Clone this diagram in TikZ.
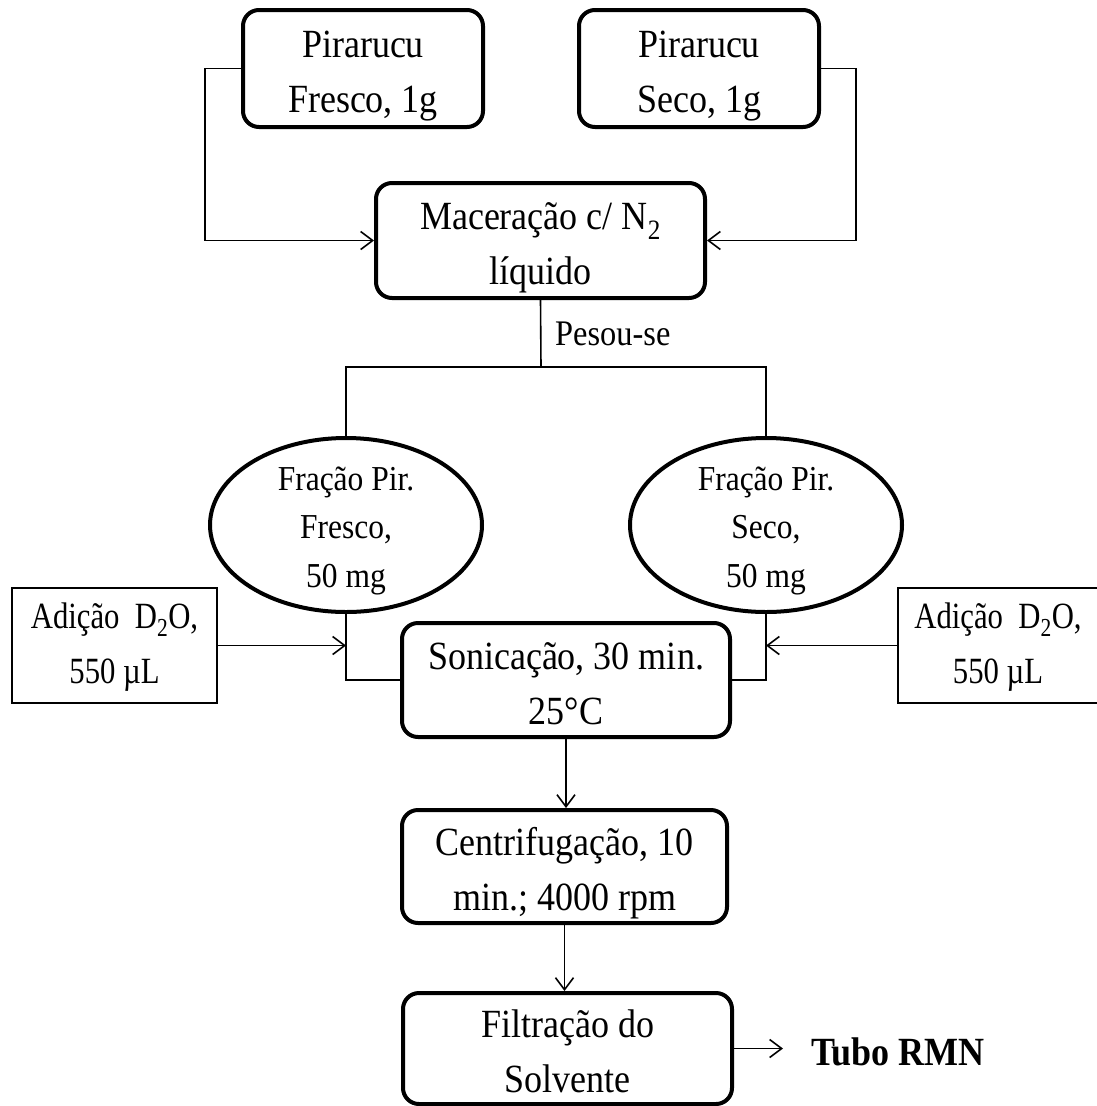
\documentclass[tikz,border=0pt]{standalone}
\usepackage{fontspec}
\setmainfont{Liberation Serif}[FakeStretch=0.9]
\newfontfamily\condfont{Liberation Serif}[FakeStretch=0.83]
\usetikzlibrary{shapes.geometric,arrows.meta}

\newcommand\sA{\rule[-11pt]{0pt}{55pt}}
\newcommand\sB{\rule[-10.75pt]{0pt}{48.5pt}}
\newcommand\sC{\rule[-17.5pt]{0pt}{55pt}}

\begin{document}
\begin{tikzpicture}[x=1pt,y=-1pt,
  box/.style={draw,line width=4pt,rounded corners=16pt,inner sep=0pt,align=center,
    font=\fontsize{40}{55}\selectfont},
  oval/.style={draw,ellipse,line width=4pt,inner xsep=0pt,inner ysep=-25pt,align=center,
    minimum width=272pt,minimum height=174pt,font=\fontsize{35}{48.5}\selectfont},
  addbox/.style={draw,line width=1.6pt,inner sep=0pt,align=center,
    minimum height=115pt,font=\condfont\fontsize{37}{55}\selectfont},
  conn/.style={line width=1.6pt},
  arr/.style={conn,-{Straight Barb[length=12pt,width=18pt]}},
]
\useasboundingbox (0,0) rectangle (1096,1106);

\node[box,minimum width=240pt,minimum height=117pt] (fresco) at (363,68.5) {\sA Pirarucu\\\sA Fresco, 1g};
\node[box,minimum width=240pt,minimum height=117pt] (seco) at (699,68.5) {\sA Pirarucu\\\sA Seco, 1g};
\node[box,minimum width=329pt,minimum height=115pt] (mac) at (540.5,240.5) {\sA Maceração c/ N\textsubscript{2}\\\sA líquido};
\coordinate (split) at (541,367);
\node[font=\fontsize{36}{40}\selectfont,anchor=base west,inner sep=0pt] (pesou) at (555,345) {Pesou-se};

\node[oval] (fracF) at (346,525) {\sB Fração Pir.\\\sB Fresco,\\\sB 50 mg};
\node[oval] (fracS) at (766,525) {\sB Fração Pir.\\\sB Seco,\\\sB 50 mg};

\node[addbox,minimum width=205pt] (adL) at (114.5,645.5) {\sC Adição\ \ D\textsubscript{2}O,\\\sC 550 µL};
\node[addbox,minimum width=200pt] (adR) at (998,645.5) {\sC Adição\ \ D\textsubscript{2}O,\\\sC 550 µL};

\node[box,minimum width=328pt,minimum height=114pt] (son) at (566,680) {\sA Sonicação, 30 min.\\\sA 25°C};
\node[box,minimum width=325pt,minimum height=113pt] (cen) at (564.5,866.5) {\sA Centrifugação, 10\\\sA min.; 4000 rpm};
\node[box,minimum width=329pt,minimum height=111pt] (fil) at (567.5,1048.5) {\sA Filtração do\\\sA Solvente};
\node[font=\bfseries\fontsize{40}{48}\selectfont,anchor=west,inner sep=0pt] (tubo) at (811,1052) {Tubo RMN};

\draw[arr] (fresco.west) -- ++(-36,0) |- (mac.west);
\draw[arr] (seco.east) -- ++(35,0) |- (mac.east);
\draw[conn] (mac.south) -- (split);
\draw[conn] (fracF.north) |- (split) -| (fracS.north);
\draw[conn] (fracF.south) |- (son.west);
\draw[conn] (fracS.south) |- (son.east);
\draw[arr] (adL.east) -- (adL.east -| fracF.south);
\draw[arr] (adR.west) -- (adR.west -| fracS.south);
\draw[arr] (son.south) -- (son.south |- cen.north);
\draw[arr] (cen.south) -- (cen.south |- fil.north);
\draw[arr] (fil.east) -- ([xshift=-28pt]fil.east -| tubo.west);
\end{tikzpicture}
\end{document}
